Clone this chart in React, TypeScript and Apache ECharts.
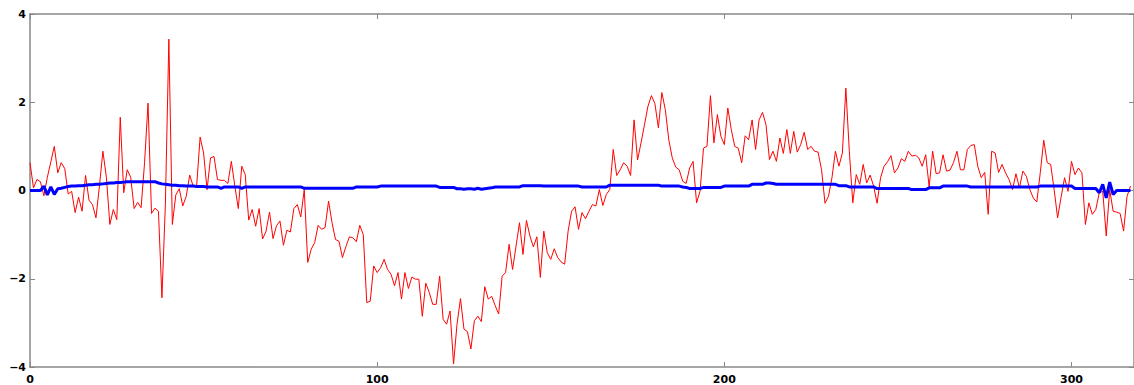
import React, { useEffect, useRef } from "react";
import * as echarts from "echarts";

// Red (noisy) series, one value per index 0..317
const redValues: number[] = [
  0.63, 0.06, 0.25, 0.2, -0.12, 0.3, 0.65, 1.0, 0.4, 0.63,
  0.5, -0.08, -0.02, -0.5, -0.15, -0.47, 0.34, -0.22, -0.32, -0.62,
  0.1, 0.89, 0.3, -0.77, -0.43, -0.66, 1.66, -0.05, 0.47, 0.3,
  -0.41, -0.27, -0.39, 0.63, 1.98, -0.52, -0.4, -0.47, -2.43, -0.3,
  3.43, -0.77, -0.1, 0.04, -0.35, -0.13, 0.35, 0.1, 0.1, 1.21,
  0.85, 0.02, 0.74, 0.77, 0.25, 0.23, 0.23, 0.16, 0.66, 0.1,
  -0.41, 0.55, 0.36, -0.67, -0.43, -0.81, -0.41, -1.1, -0.92, -0.49,
  -1.09, -0.8, -0.69, -1.24, -0.9, -0.94, -0.41, -0.32, -0.6, 0.02,
  -1.63, -1.33, -1.18, -0.79, -0.88, -0.84, -0.24, -0.73, -1.11, -1.15,
  -1.52, -1.27, -1.05, -1.07, -1.16, -0.79, -1.0, -2.54, -2.51, -1.71,
  -1.86, -1.75, -1.56, -1.79, -1.9, -2.16, -1.86, -2.46, -1.86, -2.22,
  -1.96, -2.01, -2.01, -2.85, -2.1, -2.31, -2.58, -2.58, -1.94, -2.92,
  -3.03, -2.73, -3.93, -3.03, -2.45, -3.14, -3.2, -3.59, -2.95, -2.85,
  -2.97, -2.18, -2.46, -2.4, -2.61, -2.8, -1.94, -1.86, -1.22, -1.79,
  -1.26, -0.73, -1.45, -0.68, -1.03, -1.28, -1.05, -1.97, -0.92, -1.41,
  -1.56, -1.32, -1.52, -1.62, -1.67, -0.92, -0.47, -0.37, -0.88, -0.5,
  -0.64, -0.47, -0.32, -0.35, 0.02, -0.34, -0.09, 0.02, 0.93, 0.34,
  0.47, 0.63, 0.55, 0.34, 1.6, 0.69, 1.08, 1.49, 1.91, 2.15,
  1.97, 1.42, 2.22, 1.83, 1.15, 0.74, 0.53, 0.47, 0.21, 0.16,
  0.51, 0.66, -0.28, -0.02, 0.96, 1.0, 2.15, 1.08, 1.72, 1.23,
  1.04, 1.87, 1.38, 1.0, 0.96, 0.63, 1.24, 1.15, 1.6, 0.93,
  1.6, 1.77, 1.49, 0.7, 0.89, 0.66, 1.19, 0.84, 1.38, 0.84,
  1.34, 0.87, 1.04, 1.32, 0.93, 1.0, 0.89, 0.87, 0.47, -0.29,
  -0.13, 0.29, 0.89, 0.55, 0.85, 2.32, 0.89, -0.28, 0.36, 0.14,
  0.59, 0.17, 0.35, 0.1, -0.29, 0.29, 0.55, 0.65, 0.79, 0.4,
  0.51, 0.72, 0.66, 0.89, 0.78, 0.8, 0.74, 0.55, 0.81, 0.08,
  0.89, 0.38, 0.4, 0.81, 0.44, 0.46, 0.63, 0.89, 0.47, 0.47,
  0.93, 1.02, 1.04, 0.55, 0.29, 0.41, -0.54, 0.89, 0.85, 0.41,
  0.59, 0.4, 0.25, 0.02, 0.38, 0.06, 0.44, 0.32, 0.02, -0.17,
  -0.26, 0.4, 1.14, 0.63, 0.59, 0.02, -0.62, -0.15, 0.29, -0.02,
  0.66, 0.36, 0.51, 0.4, -0.77, -0.28, -0.54, -0.43, -0.05, -0.02,
  -1.03, 0.02, -0.47, -0.49, -0.52, -0.92, -0.13, 0.1,
];

// Blue (smooth) series, one value per index 0..317
const blueValues: number[] = [
  0, 0, 0, 0, 0.1, -0.1, 0.08, -0.09, 0.04, 0.05,
  0.07, 0.09, 0.1, 0.1, 0.11, 0.11, 0.12, 0.13, 0.13, 0.14,
  0.14, 0.15, 0.16, 0.17, 0.17, 0.18, 0.18, 0.19, 0.2, 0.2,
  0.2, 0.2, 0.2, 0.2, 0.2, 0.2, 0.2, 0.17, 0.15, 0.14,
  0.13, 0.12, 0.12, 0.11, 0.11, 0.1, 0.1, 0.1, 0.09, 0.09,
  0.09, 0.08, 0.08, 0.08, 0.08, 0.05, 0.08, 0.08, 0.08, 0.08,
  0.08, 0.05, 0.08, 0.08, 0.08, 0.08, 0.08, 0.08, 0.08, 0.08,
  0.08, 0.08, 0.08, 0.08, 0.08, 0.08, 0.08, 0.08, 0.08, 0.05,
  0.05, 0.05, 0.05, 0.05, 0.05, 0.05, 0.05, 0.05, 0.05, 0.05,
  0.05, 0.05, 0.05, 0.05, 0.08, 0.08, 0.08, 0.08, 0.08, 0.08,
  0.08, 0.1, 0.1, 0.1, 0.1, 0.1, 0.1, 0.1, 0.1, 0.1,
  0.1, 0.1, 0.1, 0.1, 0.1, 0.1, 0.1, 0.1, 0.07, 0.07,
  0.07, 0.07, 0.07, 0.04, 0.04, 0.03, 0.04, 0.04, 0.03, 0.05,
  0.03, 0.04, 0.05, 0.06, 0.08, 0.08, 0.08, 0.08, 0.08, 0.08,
  0.08, 0.08, 0.11, 0.11, 0.11, 0.11, 0.11, 0.11, 0.1, 0.1,
  0.1, 0.1, 0.1, 0.1, 0.1, 0.1, 0.1, 0.1, 0.1, 0.08,
  0.08, 0.08, 0.08, 0.08, 0.08, 0.08, 0.08, 0.12, 0.12, 0.12,
  0.12, 0.12, 0.12, 0.12, 0.12, 0.12, 0.12, 0.12, 0.12, 0.12,
  0.12, 0.12, 0.1, 0.1, 0.1, 0.1, 0.1, 0.1, 0.08, 0.07,
  0.045, 0.045, 0.045, 0.045, 0.07, 0.07, 0.07, 0.07, 0.07, 0.07,
  0.1, 0.1, 0.1, 0.1, 0.1, 0.1, 0.1, 0.1, 0.14, 0.14,
  0.14, 0.14, 0.17, 0.17, 0.16, 0.14, 0.14, 0.14, 0.14, 0.14,
  0.14, 0.14, 0.14, 0.14, 0.14, 0.14, 0.14, 0.14, 0.14, 0.14,
  0.14, 0.14, 0.14, 0.11, 0.11, 0.11, 0.08, 0.08, 0.08, 0.08,
  0.08, 0.08, 0.08, 0.08, 0.045, 0.045, 0.045, 0.045, 0.045, 0.045,
  0.045, 0.045, 0.045, 0.045, 0.02, 0.02, 0.02, 0.02, 0.02, 0.06,
  0.06, 0.06, 0.06, 0.1, 0.1, 0.1, 0.1, 0.1, 0.1, 0.1,
  0.1, 0.08, 0.08, 0.08, 0.08, 0.08, 0.08, 0.08, 0.08, 0.08,
  0.08, 0.08, 0.08, 0.08, 0.08, 0.08, 0.08, 0.08, 0.08, 0.08,
  0.08, 0.1, 0.1, 0.1, 0.1, 0.1, 0.1, 0.1, 0.1, 0.1,
  0.1, 0.045, 0.045, 0.045, 0.045, 0.045, 0.045, 0.045, -0.05, 0.14,
  -0.17, 0.19, -0.09, 0, 0, 0, 0, 0,
];

const xTicks = [0, 100, 200, 300];
const yTicks = [-4, -2, 0, 2, 4];

const X_MIN = 0;
const X_MAX = 318;
const Y_MIN = -4;
const Y_MAX = 4;

export default function App() {
  const ref = useRef<HTMLDivElement>(null);

  useEffect(() => {
    if (!ref.current) return;
    const chart = echarts.init(ref.current, undefined, { renderer: "svg" });
    const frameColor = "#888888";
    const labelFont = {
      fontFamily: "DejaVu Sans",
      fontWeight: "bold" as const,
      fontSize: 11,
      color: "#000",
    };
    const fmtY = (v: number) =>
      yTicks.includes(v) ? (v < 0 ? "\u2212" + Math.abs(v) : String(v)) : "";
    const fmtX = (v: number) => (xTicks.includes(v) ? String(v) : "");

    const baseX = {
      type: "value" as const,
      min: X_MIN,
      max: X_MAX,
      interval: 100,
      splitLine: { show: false },
      axisLine: { show: true, onZero: false, lineStyle: { color: frameColor, width: 1.5 } },
      axisTick: { show: true, inside: true, length: 5, lineStyle: { color: frameColor, width: 1 } },
    };
    const baseY = {
      type: "value" as const,
      min: Y_MIN,
      max: Y_MAX,
      interval: 2,
      splitLine: { show: false },
      axisLine: { show: true, onZero: false, lineStyle: { color: frameColor, width: 1.5 } },
      axisTick: { show: true, inside: true, length: 5, lineStyle: { color: frameColor, width: 1 } },
    };

    chart.setOption({
      animation: false,
      backgroundColor: "#ffffff",
      grid: { left: 30, right: 0, top: 14, bottom: 17, containLabel: false },
      xAxis: [
        {
          ...baseX,
          position: "bottom",
          axisLabel: { ...labelFont, margin: 7, showMaxLabel: false, formatter: fmtX },
        },
        {
          ...baseX,
          position: "top",
          axisLabel: { show: false },
        },
      ],
      yAxis: [
        {
          ...baseY,
          position: "left",
          axisLabel: { ...labelFont, margin: 4, formatter: fmtY },
        },
        {
          ...baseY,
          position: "right",
          axisLabel: { show: false },
        },
      ],
      series: [
        {
          type: "line",
          xAxisIndex: 0,
          yAxisIndex: 0,
          data: redValues.map((v, i) => [i, v]),
          showSymbol: false,
          symbol: "none",
          lineStyle: { color: "#ff0000", width: 1 },
          z: 2,
        },
        {
          type: "line",
          xAxisIndex: 0,
          yAxisIndex: 0,
          data: blueValues.map((v, i) => [i, v]),
          showSymbol: false,
          symbol: "none",
          lineStyle: { color: "#0000ff", width: 3 },
          z: 3,
        },
      ],
    });
    return () => chart.dispose();
  }, []);

  return (
    <div
      ref={ref}
      style={{ position: "fixed", left: 0, top: 0, width: 1134, height: 385, background: "#fff" }}
    />
  );
}
